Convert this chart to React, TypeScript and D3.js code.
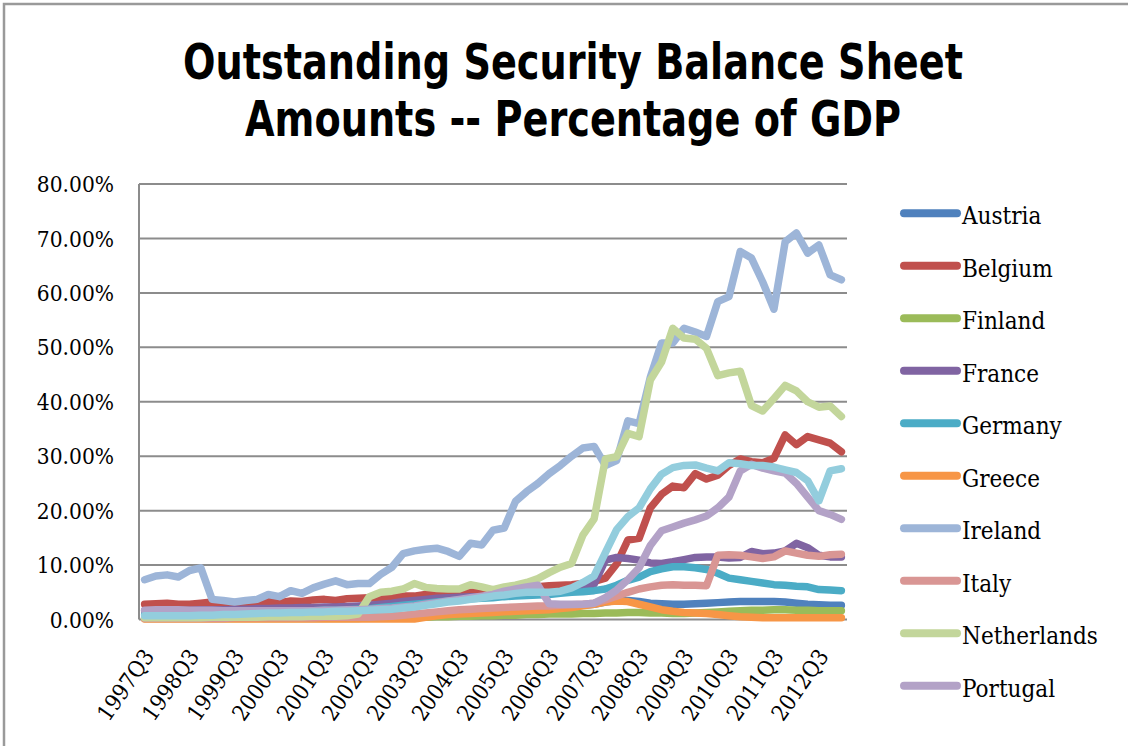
import React, { useEffect, useRef } from 'react';
import * as d3 from 'd3';

const quarters = [
  '1997Q3','1997Q4','1998Q1','1998Q2','1998Q3','1998Q4','1999Q1','1999Q2','1999Q3','1999Q4',
  '2000Q1','2000Q2','2000Q3','2000Q4','2001Q1','2001Q2','2001Q3','2001Q4','2002Q1','2002Q2',
  '2002Q3','2002Q4','2003Q1','2003Q2','2003Q3','2003Q4','2004Q1','2004Q2','2004Q3','2004Q4',
  '2005Q1','2005Q2','2005Q3','2005Q4','2006Q1','2006Q2','2006Q3','2006Q4','2007Q1','2007Q2',
  '2007Q3','2007Q4','2008Q1','2008Q2','2008Q3','2008Q4','2009Q1','2009Q2','2009Q3','2009Q4',
  '2010Q1','2010Q2','2010Q3','2010Q4','2011Q1','2011Q2','2011Q3','2011Q4','2012Q1','2012Q2',
  '2012Q3','2012Q4','2013Q1'
];

const austria = [0.4,0.4,0.4,0.4,0.4,0.4,0.4,0.4,0.4,0.4,0.5,0.5,0.5,0.5,0.5,0.5,0.5,0.5,0.6,0.6,0.6,0.6,0.7,0.7,0.8,0.9,1.0,1.1,1.2,1.3,1.4,1.5,1.6,1.7,1.8,1.9,2.0,2.2,2.4,2.6,2.8,3.2,3.5,3.5,3.3,3.0,2.9,2.8,2.8,2.9,3.0,3.1,3.2,3.3,3.3,3.3,3.3,3.2,3.0,2.8,2.7,2.6,2.6];
const belgium = [2.8,2.9,3.0,2.8,2.8,3.0,3.2,3.1,2.9,2.9,3.0,3.3,3.1,3.4,3.3,3.6,3.7,3.5,3.8,3.9,4.0,3.9,4.1,4.3,4.3,4.6,4.8,4.7,4.8,5.0,5.1,5.2,5.4,5.6,5.8,6.0,6.2,6.3,6.4,6.6,7.0,7.6,10.2,14.6,14.9,20.5,23.0,24.5,24.2,26.8,25.8,26.5,28.3,29.5,29.0,28.8,29.6,33.9,32.1,33.6,33.0,32.4,30.8];
const finland = [0.2,0.2,0.2,0.2,0.2,0.2,0.2,0.2,0.2,0.2,0.2,0.2,0.2,0.2,0.2,0.2,0.2,0.2,0.2,0.2,0.3,0.3,0.3,0.3,0.4,0.4,0.5,0.5,0.6,0.6,0.7,0.7,0.8,0.8,0.9,0.9,1.0,1.0,1.0,1.1,1.1,1.2,1.2,1.3,1.3,1.2,1.2,1.1,1.1,1.2,1.3,1.4,1.5,1.6,1.7,1.7,1.8,1.8,1.7,1.7,1.6,1.6,1.6];
const france = [1.6,1.6,1.7,1.7,1.7,1.8,1.8,1.8,1.9,1.9,2.0,2.0,2.1,2.1,2.2,2.2,2.3,2.3,2.4,2.5,2.6,2.8,3.0,3.3,3.5,3.7,3.9,4.0,4.1,4.2,4.2,4.3,4.4,4.5,4.6,4.7,4.8,5.0,5.2,5.6,6.5,10.9,11.4,11.2,10.9,10.4,10.3,10.6,11.0,11.4,11.5,11.5,11.3,11.4,12.5,12.1,12.2,12.6,14.0,13.2,11.8,11.5,11.5];
const germany = [0.9,0.9,1.0,1.0,1.0,1.1,1.1,1.2,1.2,1.3,1.3,1.4,1.4,1.5,1.5,1.6,1.7,1.7,1.8,1.9,2.0,2.2,2.4,2.6,2.8,3.0,3.2,3.4,3.6,3.8,3.9,4.0,4.2,4.3,4.4,4.5,4.6,4.8,5.0,5.1,5.3,5.6,6.3,7.2,7.8,8.8,9.3,9.7,9.7,9.5,9.2,8.5,7.6,7.3,7.0,6.7,6.4,6.3,6.1,6.0,5.5,5.4,5.3];
const greece = [0.1,0.1,0.1,0.1,0.1,0.1,0.1,0.1,0.1,0.1,0.1,0.1,0.1,0.1,0.1,0.1,0.1,0.1,0.1,0.1,0.1,0.1,0.1,0.1,0.1,0.4,0.7,0.9,1.0,1.1,1.2,1.3,1.4,1.5,1.6,1.7,1.8,2.0,2.2,2.5,2.8,3.2,3.4,3.3,2.8,2.3,1.8,1.5,1.3,1.2,1.1,0.9,0.7,0.5,0.4,0.3,0.3,0.3,0.3,0.3,0.3,0.3,0.3];
const ireland = [7.3,8.0,8.2,7.8,9.0,9.5,3.7,3.5,3.2,3.5,3.7,4.6,4.2,5.3,4.8,5.8,6.5,7.1,6.4,6.6,6.6,8.3,9.6,12.1,12.6,12.9,13.1,12.5,11.6,14.0,13.7,16.4,16.8,21.7,23.5,25.0,26.8,28.3,30.0,31.5,31.8,28.3,29.2,36.5,36.0,44.5,50.8,50.8,53.5,52.8,52.0,58.4,59.3,67.6,66.4,62.0,57.0,69.4,71.0,67.3,68.8,63.3,62.4];
const italy = [0.2,0.2,0.2,0.2,0.2,0.2,0.2,0.2,0.3,0.3,0.3,0.3,0.3,0.3,0.3,0.3,0.4,0.4,0.4,0.4,0.4,0.5,0.6,0.8,1.0,1.2,1.4,1.6,1.8,1.9,2.0,2.1,2.2,2.3,2.4,2.5,2.5,2.6,2.7,2.8,3.0,3.6,4.3,5.0,5.6,6.0,6.3,6.4,6.3,6.3,6.2,11.8,11.9,11.8,11.5,11.2,11.5,12.6,12.2,11.8,11.6,11.9,12.0];
const netherlands = [0.3,0.3,0.3,0.3,0.3,0.3,0.4,0.4,0.4,0.4,0.4,0.5,0.5,0.5,0.5,0.6,0.6,0.6,0.7,1.0,4.2,5.0,5.2,5.6,6.6,5.9,5.7,5.6,5.6,6.4,6.0,5.5,6.0,6.3,6.8,7.5,8.6,9.6,10.3,15.5,18.5,29.5,29.9,34.2,33.6,44.0,47.3,53.5,51.7,51.5,49.8,44.8,45.3,45.6,39.3,38.3,40.6,43.0,42.0,40.0,39.0,39.2,37.3];
const portugal = [1.7,1.8,1.8,1.8,1.7,1.7,1.7,1.6,1.6,1.6,1.6,1.6,1.6,1.6,1.6,1.6,1.7,1.7,1.8,1.8,1.9,2.0,2.1,2.3,2.5,2.8,3.1,3.4,3.7,4.0,4.3,4.6,5.2,5.6,6.0,6.3,2.9,2.8,2.8,2.8,3.0,4.0,5.4,7.3,9.5,13.6,16.3,17.0,17.7,18.3,19.0,20.5,22.5,27.3,28.5,27.8,27.3,26.9,25.0,22.5,20.0,19.3,18.4];
const spain = [0.7,0.7,0.7,0.7,0.7,0.8,0.8,0.9,0.9,1.0,1.1,1.2,1.2,1.3,1.3,1.4,1.4,1.5,1.5,1.6,1.7,1.8,1.9,2.1,2.3,2.6,2.9,3.2,3.4,3.7,4.0,4.3,4.5,4.8,5.0,5.0,5.0,5.2,5.8,6.8,8.0,12.3,16.5,18.9,20.5,24.0,26.7,27.9,28.3,28.4,27.8,27.3,28.8,28.6,28.3,28.3,28.0,27.5,27.0,25.5,21.8,27.3,27.7];

const seriesNames = ['Austria','Belgium','Finland','France','Germany','Greece','Ireland','Italy','Netherlands','Portugal','Spain'];
const seriesValues = [austria, belgium, finland, france, germany, greece, ireland, italy, netherlands, portugal, spain];
const seriesColors = ['#4F81BD','#C0504D','#9BBB59','#8064A2','#4BACC6','#F79646','#9DB5D8','#D99694','#C3D69B','#B3A2C7','#93CDDD'];
const legendCount = 10;
const yTicks = [0, 10, 20, 30, 40, 50, 60, 70, 80];
const titleLines = ['Outstanding Security Balance Sheet', 'Amounts -- Percentage of GDP'];

const SERIF = "'DejaVu Serif Condensed', 'DejaVu Serif', serif";

export default function App() {
  const ref = useRef<SVGSVGElement>(null);

  useEffect(() => {
    const svg = d3.select(ref.current);
    svg.selectAll('*').remove();

    const left = 139, right = 847, top = 184, bottom = 619.5;
    const x = d3.scaleBand<string>().domain(quarters).range([left, right]);
    const cx = (i: number) => (x(quarters[i]) as number) + x.bandwidth() / 2;
    const y = d3.scaleLinear().domain([0, 80]).range([bottom, top]);

    // frame
    svg.append('path').attr('d', 'M4,746 V4 H1128').attr('fill', 'none')
      .attr('stroke', '#9a9a9a').attr('stroke-width', 2.5);

    // title
    const tw = [780, 656];
    const tb = [79, 136];
    titleLines.forEach((t, k) => {
      svg.append('text').attr('x', 573).attr('y', tb[k]).attr('text-anchor', 'middle')
        .attr('font-family', "'Liberation Sans Narrow', 'DejaVu Sans Condensed', 'Liberation Sans', sans-serif")
        .attr('font-weight', 'bold').attr('font-size', 49)
        .attr('textLength', tw[k]).attr('lengthAdjust', 'spacingAndGlyphs')
        .attr('fill', '#000').text(t);
    });

    // gridlines
    svg.append('g').selectAll('line').data(yTicks).join('line')
      .attr('x1', left).attr('x2', right)
      .attr('y1', d => y(d)).attr('y2', d => y(d))
      .attr('stroke', '#8c8c8c').attr('stroke-width', 2);
    svg.append('line').attr('x1', left).attr('x2', left).attr('y1', y(80)).attr('y2', y(0))
      .attr('stroke', '#8c8c8c').attr('stroke-width', 2);

    // y labels
    const fmt = d3.format('.2f');
    svg.append('g').selectAll('text').data(yTicks).join('text')
      .attr('x', 114).attr('y', d => y(d)).attr('dy', '0.36em')
      .attr('text-anchor', 'end').attr('font-family', SERIF).attr('font-size', 22.5)
      .attr('fill', '#000').text(d => fmt(d) + '%');

    // x labels
    const xl = svg.append('g');
    quarters.forEach((q, i) => {
      if (i % 4 !== 0) return;
      xl.append('text')
        .attr('transform', `translate(${cx(i) + 4},${bottom + 32}) rotate(-55)`)
        .attr('text-anchor', 'end').attr('dy', '0.36em')
        .attr('font-family', SERIF).attr('font-size', 22.5).attr('fill', '#000').text(q);
    });

    // lines
    const line = d3.line<number>().x((_, i) => cx(i)).y(d => y(d));
    seriesValues.forEach((vals, k) => {
      svg.append('path').datum(vals).attr('d', line)
        .attr('fill', 'none').attr('stroke', seriesColors[k]).attr('stroke-width', 7.5)
        .attr('stroke-linejoin', 'round').attr('stroke-linecap', 'round');
    });

    // legend
    const lg = svg.append('g');
    for (let k = 0; k < legendCount; k++) {
      const ly = 213.3 + k * 52.5;
      lg.append('line').attr('x1', 904).attr('x2', 957).attr('y1', ly).attr('y2', ly)
        .attr('stroke', seriesColors[k]).attr('stroke-width', 8).attr('stroke-linecap', 'round');
      lg.append('text').attr('x', 962).attr('y', ly + 11).attr('font-family', SERIF)
        .attr('font-size', 24).attr('fill', '#000').text(seriesNames[k]);
    }
  }, []);

  return (
    <svg ref={ref} width={1128} height={746}
      style={{ position: 'absolute', left: 0, top: 0, background: '#fff' }} />
  );
}
